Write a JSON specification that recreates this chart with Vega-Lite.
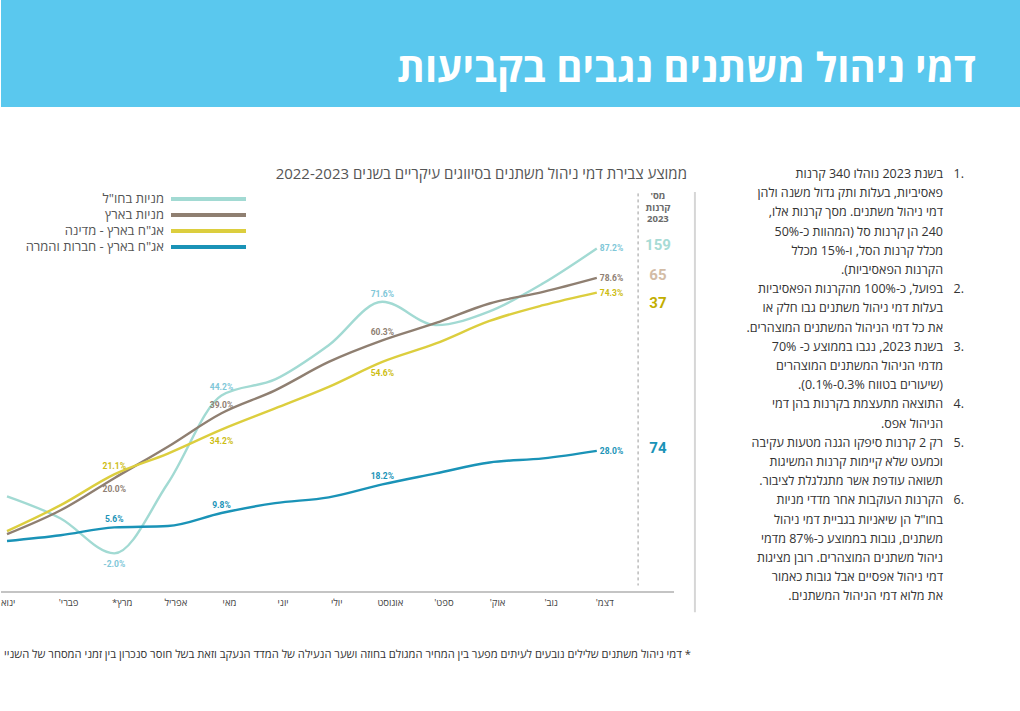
{
  "$schema": "https://vega.github.io/schema/vega-lite/v6.json",
  "padding": 0,
  "background": "white",
  "config": {"view": {"stroke": null}, "font": "Open Sans", "text": {"font": "Open Sans"}},
  "datasets": {
    "main": [
      {"series": "מניות בחו\"ל", "code": "intl", "month": 1, "value": 14.7},
      {"series": "מניות בחו\"ל", "code": "intl", "month": 2, "value": 8.2},
      {"series": "מניות בחו\"ל", "code": "intl", "month": 3, "value": -2.0, "label": "-2.0%"},
      {"series": "מניות בחו\"ל", "code": "intl", "month": 4, "value": 18.5},
      {"series": "מניות בחו\"ל", "code": "intl", "month": 5, "value": 44.2, "label": "44.2%"},
      {"series": "מניות בחו\"ל", "code": "intl", "month": 6, "value": 48.9},
      {"series": "מניות בחו\"ל", "code": "intl", "month": 7, "value": 58.9},
      {"series": "מניות בחו\"ל", "code": "intl", "month": 8, "value": 71.6, "label": "71.6%"},
      {"series": "מניות בחו\"ל", "code": "intl", "month": 9, "value": 64.8},
      {"series": "מניות בחו\"ל", "code": "intl", "month": 10, "value": 68.8},
      {"series": "מניות בחו\"ל", "code": "intl", "month": 11, "value": 77.0},
      {"series": "מניות בחו\"ל", "code": "intl", "month": 12, "value": 87.2, "label": "87.2%", "funds": 159},
      {"series": "מניות בארץ", "code": "dom", "month": 1, "value": 3.6},
      {"series": "מניות בארץ", "code": "dom", "month": 2, "value": 10.6},
      {"series": "מניות בארץ", "code": "dom", "month": 3, "value": 20.0, "label": "20.0%"},
      {"series": "מניות בארץ", "code": "dom", "month": 4, "value": 29.2},
      {"series": "מניות בארץ", "code": "dom", "month": 5, "value": 39.0, "label": "39.0%"},
      {"series": "מניות בארץ", "code": "dom", "month": 6, "value": 45.7},
      {"series": "מניות בארץ", "code": "dom", "month": 7, "value": 54.0},
      {"series": "מניות בארץ", "code": "dom", "month": 8, "value": 60.3, "label": "60.3%"},
      {"series": "מניות בארץ", "code": "dom", "month": 9, "value": 65.4},
      {"series": "מניות בארץ", "code": "dom", "month": 10, "value": 71.1},
      {"series": "מניות בארץ", "code": "dom", "month": 11, "value": 74.5},
      {"series": "מניות בארץ", "code": "dom", "month": 12, "value": 78.6, "label": "78.6%", "funds": 65},
      {"series": "אג\"ח בארץ - מדינה", "code": "gov", "month": 1, "value": 4.5},
      {"series": "אג\"ח בארץ - מדינה", "code": "gov", "month": 2, "value": 12.1},
      {"series": "אג\"ח בארץ - מדינה", "code": "gov", "month": 3, "value": 21.1, "label": "21.1%"},
      {"series": "אג\"ח בארץ - מדינה", "code": "gov", "month": 4, "value": 27.2},
      {"series": "אג\"ח בארץ - מדינה", "code": "gov", "month": 5, "value": 34.2, "label": "34.2%"},
      {"series": "אג\"ח בארץ - מדינה", "code": "gov", "month": 6, "value": 40.4},
      {"series": "אג\"ח בארץ - מדינה", "code": "gov", "month": 7, "value": 46.7},
      {"series": "אג\"ח בארץ - מדינה", "code": "gov", "month": 8, "value": 54.0, "label": "54.6%"},
      {"series": "אג\"ח בארץ - מדינה", "code": "gov", "month": 9, "value": 59.4},
      {"series": "אג\"ח בארץ - מדינה", "code": "gov", "month": 10, "value": 66.0},
      {"series": "אג\"ח בארץ - מדינה", "code": "gov", "month": 11, "value": 70.6},
      {"series": "אג\"ח בארץ - מדינה", "code": "gov", "month": 12, "value": 74.3, "label": "74.3%", "funds": 37},
      {"series": "אג\"ח בארץ - חברות והמרה", "code": "corp", "month": 1, "value": 1.6},
      {"series": "אג\"ח בארץ - חברות והמרה", "code": "corp", "month": 2, "value": 3.3},
      {"series": "אג\"ח בארץ - חברות והמרה", "code": "corp", "month": 3, "value": 5.6, "label": "5.6%"},
      {"series": "אג\"ח בארץ - חברות והמרה", "code": "corp", "month": 4, "value": 6.0},
      {"series": "אג\"ח בארץ - חברות והמרה", "code": "corp", "month": 5, "value": 9.8, "label": "9.8%"},
      {"series": "אג\"ח בארץ - חברות והמרה", "code": "corp", "month": 6, "value": 12.7},
      {"series": "אג\"ח בארץ - חברות והמרה", "code": "corp", "month": 7, "value": 14.4},
      {"series": "אג\"ח בארץ - חברות והמרה", "code": "corp", "month": 8, "value": 18.2, "label": "18.2%"},
      {"series": "אג\"ח בארץ - חברות והמרה", "code": "corp", "month": 9, "value": 21.4},
      {"series": "אג\"ח בארץ - חברות והמרה", "code": "corp", "month": 10, "value": 24.6},
      {"series": "אג\"ח בארץ - חברות והמרה", "code": "corp", "month": 11, "value": 25.8},
      {"series": "אג\"ח בארץ - חברות והמרה", "code": "corp", "month": 12, "value": 28.0, "label": "28.0%", "funds": 74}
    ],
    "months": [
      {"month": 1, "name": "ינואר"},
      {"month": 2, "name": "פברי'\u200f"},
      {"month": 3, "name": "מרץ*\u200f"},
      {"month": 4, "name": "אפריל"},
      {"month": 5, "name": "מאי"},
      {"month": 6, "name": "יוני"},
      {"month": 7, "name": "יולי"},
      {"month": 8, "name": "אוגוסט"},
      {"month": 9, "name": "ספט'\u200f"},
      {"month": 10, "name": "אוק'\u200f"},
      {"month": 11, "name": "נוב'\u200f"},
      {"month": 12, "name": "דצמ'\u200f"}
    ],
    "notes": [
      {"line": 1, "num": "1.", "text": "\u200fבשנת 2023 נוהלו 340 קרנות\u200f"},
      {"line": 2, "text": "\u200fפאסיביות, בעלות ותק גדול משנה ולהן\u200f"},
      {"line": 3, "text": "\u200fדמי ניהול משתנים. מסך קרנות אלו,\u200f"},
      {"line": 4, "text": "\u200f240 הן קרנות סל (המהוות כ-50%\u200f"},
      {"line": 5, "text": "\u200fמכלל קרנות הסל, ו-15% מכלל\u200f"},
      {"line": 6, "text": "\u200fהקרנות הפאסיביות).\u200f"},
      {"line": 7, "num": "2.", "text": "\u200fבפועל, כ-100% מהקרנות הפאסיביות\u200f"},
      {"line": 8, "text": "\u200fבעלות דמי ניהול משתנים גבו חלק או\u200f"},
      {"line": 9, "text": "\u200fאת כל דמי הניהול המשתנים המוצהרים.\u200f"},
      {"line": 10, "num": "3.", "text": "\u200fבשנת 2023, נגבו בממוצע כ- 70%\u200f"},
      {"line": 11, "text": "\u200fמדמי הניהול המשתנים המוצהרים\u200f"},
      {"line": 12, "text": "\u200f(שיעורים בטווח 0.3%-0.1%).\u200f"},
      {"line": 13, "num": "4.", "text": "\u200fהתוצאה מתעצמת בקרנות בהן דמי\u200f"},
      {"line": 14, "text": "\u200fהניהול אפס.\u200f"},
      {"line": 15, "num": "5.", "text": "\u200fרק 2 קרנות סיפקו הגנה מטעות עקיבה\u200f"},
      {"line": 16, "text": "\u200fוכמעט שלא קיימות קרנות המשיגות\u200f"},
      {"line": 17, "text": "\u200fתשואה עודפת אשר מתגלגלת לציבור.\u200f"},
      {"line": 18, "num": "6.", "text": "\u200fהקרנות העוקבות אחר מדדי מניות\u200f"},
      {"line": 19, "text": "\u200fבחו\"ל הן שיאניות בגביית דמי ניהול\u200f"},
      {"line": 20, "text": "\u200fמשתנים, גובות בממוצע כ-87% מדמי\u200f"},
      {"line": 21, "text": "\u200fניהול משתנים המוצהרים. רובן מציגות\u200f"},
      {"line": 22, "text": "\u200fדמי ניהול אפסיים אבל גובות כאמור\u200f"},
      {"line": 23, "text": "\u200fאת מלוא דמי הניהול המשתנים.\u200f"}
    ]
  },
  "bounds": "flush",
  "spacing": 83,
  "vconcat": [
    {
      "width": 1020,
      "height": 107,
      "view": {"fill": "#5AC8EE", "stroke": null},
      "data": {"values": [{"heading": "דמי ניהול משתנים נגבים בקביעות"}]},
      "mark": {"type": "text", "align": "right", "baseline": "middle", "dx": -45, "dy": 16, "fontSize": 40, "fontWeight": "bold", "color": "white", "font": "Open Sans"},
      "encoding": {"x": {"value": "width"}, "text": {"field": "heading"}}
    },
    {
      "bounds": "flush",
      "spacing": 5,
      "hconcat": [
        {
          "width": 695,
          "height": 402,
          "title": {"text": "ממוצע צבירת דמי ניהול משתנים בסיווגים עיקריים בשנים 2022-2023", "anchor": "end", "frame": "group", "dx": -9, "offset": 8, "fontSize": 15, "fontWeight": "normal", "color": "#555555", "font": "Open Sans"},
          "resolve": {"scale": {"color": "independent"}},
          "layer": [
            {
              "data": {"name": "main"},
              "mark": {"type": "line", "interpolate": "monotone", "strokeWidth": 2.4},
              "encoding": {
                "x": {"field": "month", "type": "quantitative", "scale": {"domain": [0.888, 13.85], "nice": false, "zero": false}, "axis": null},
                "y": {"field": "value", "type": "quantitative", "scale": {"domain": [-13.3, 104.3], "nice": false, "zero": false}, "axis": null},
                "color": {
                  "field": "series", "type": "nominal",
                  "scale": {"domain": ["מניות בחו\"ל", "מניות בארץ", "אג\"ח בארץ - מדינה", "אג\"ח בארץ - חברות והמרה"], "range": ["#A2DAD3", "#8F7F71", "#DCCE3E", "#1A93B7"]},
                  "legend": {
                    "title": null, "orient": "none", "legendX": 201, "legendY": 2.5, "direction": "vertical",
                    "symbolType": "M-10,0H10", "symbolSize": 56.25, "symbolStrokeWidth": 4, "rowPadding": -1,
                    "labelAlign": "right", "labelOffset": -51, "labelFontSize": 13, "labelColor": "#555555", "labelFont": "Open Sans",
                    "padding": 0, "labelLimit": 300
                  }
                }
              }
            },
            {
              "data": {"values": [{}]},
              "mark": {"type": "rule", "color": "#C4C4C4", "strokeWidth": 2},
              "encoding": {
                "x": {"datum": 0.888, "type": "quantitative", "axis": null},
                "x2": {"datum": 13.44},
                "y": {"datum": -13.3, "type": "quantitative", "axis": null}
              }
            },
            {
              "data": {"values": [{}]},
              "mark": {"type": "rule", "color": "#9A9A9A", "strokeWidth": 1, "strokeDash": [3, 3]},
              "encoding": {
                "x": {"datum": 12.77, "type": "quantitative", "axis": null},
                "y": {"datum": 103.3, "type": "quantitative", "axis": null},
                "y2": {"datum": -11.4}
              }
            },
            {
              "data": {"values": [{}]},
              "mark": {"type": "rule", "color": "#D6D6D6", "strokeWidth": 2},
              "encoding": {
                "x": {"datum": 13.83, "type": "quantitative", "axis": null},
                "y": {"datum": 103.7, "type": "quantitative", "axis": null},
                "y2": {"datum": -19.2}
              }
            },
            {
              "data": {"name": "months"},
              "transform": [{"filter": "datum.month > 1"}],
              "mark": {"type": "text", "align": "center", "baseline": "middle", "dx": 8, "dy": 11, "fontSize": 9.5, "color": "#444444", "font": "Open Sans"},
              "encoding": {
                "x": {"field": "month", "type": "quantitative", "axis": null},
                "y": {"datum": -13.3, "type": "quantitative", "axis": null},
                "text": {"field": "name"}
              }
            },
            {
              "data": {"name": "months"},
              "transform": [{"filter": "datum.month == 1"}],
              "mark": {"type": "text", "align": "left", "baseline": "middle", "dx": -6, "dy": 11, "fontSize": 9.5, "color": "#444444", "font": "Open Sans", "limit": 18, "ellipsis": "\u200f"},
              "encoding": {
                "x": {"field": "month", "type": "quantitative", "axis": null},
                "y": {"datum": -13.3, "type": "quantitative", "axis": null},
                "text": {"field": "name"}
              }
            },
            {
              "data": {"name": "main"},
              "transform": [{"filter": "isValid(datum.label) && datum.month < 12 && !((datum.code == 'intl' && datum.month == 3) || (datum.code == 'dom' && datum.month == 3) || (datum.code == 'gov' && (datum.month == 5 || datum.month == 8)))"}],
              "mark": {"type": "text", "dy": -8, "baseline": "middle", "fontSize": 8.5, "fontWeight": "bold", "font": "Roboto"},
              "encoding": {
                "x": {"field": "month", "type": "quantitative", "axis": null},
                "y": {"field": "value", "type": "quantitative", "axis": null},
                "text": {"field": "label"},
                "color": {"field": "series", "type": "nominal", "legend": null,
                  "scale": {"domain": ["מניות בחו\"ל", "מניות בארץ", "אג\"ח בארץ - מדינה", "אג\"ח בארץ - חברות והמרה"], "range": ["#80C7D8", "#8F8073", "#CDBD12", "#1A93B7"]}}
              }
            },
            {
              "data": {"name": "main"},
              "transform": [{"filter": "isValid(datum.label) && ((datum.code == 'intl' && datum.month == 3) || (datum.code == 'dom' && datum.month == 3) || (datum.code == 'gov' && (datum.month == 5 || datum.month == 8)))"}],
              "mark": {"type": "text", "dy": 11, "baseline": "middle", "fontSize": 8.5, "fontWeight": "bold", "font": "Roboto"},
              "encoding": {
                "x": {"field": "month", "type": "quantitative", "axis": null},
                "y": {"field": "value", "type": "quantitative", "axis": null},
                "text": {"field": "label"},
                "color": {"field": "series", "type": "nominal", "legend": null,
                  "scale": {"domain": ["מניות בחו\"ל", "מניות בארץ", "אג\"ח בארץ - מדינה", "אג\"ח בארץ - חברות והמרה"], "range": ["#80C7D8", "#8F8073", "#CDBD12", "#1A93B7"]}}
              }
            },
            {
              "data": {"name": "main"},
              "transform": [{"filter": "datum.month == 12"}],
              "mark": {"type": "text", "dx": 3, "align": "left", "baseline": "middle", "fontSize": 8.5, "fontWeight": "bold", "font": "Roboto"},
              "encoding": {
                "x": {"field": "month", "type": "quantitative", "axis": null},
                "y": {"field": "value", "type": "quantitative", "axis": null},
                "text": {"field": "label"},
                "color": {"field": "series", "type": "nominal", "legend": null,
                  "scale": {"domain": ["מניות בחו\"ל", "מניות בארץ", "אג\"ח בארץ - מדינה", "אג\"ח בארץ - חברות והמרה"], "range": ["#80C7D8", "#8F8073", "#CDBD12", "#1A93B7"]}}
              }
            },
            {
              "data": {"name": "main"},
              "transform": [{"filter": "datum.month == 12 && datum.code != 'gov'"}],
              "mark": {"type": "text", "dy": -3, "align": "center", "baseline": "middle", "fontSize": 15, "fontWeight": "bold", "font": "Roboto"},
              "encoding": {
                "x": {"datum": 13.14, "type": "quantitative", "axis": null},
                "y": {"field": "value", "type": "quantitative", "axis": null},
                "text": {"field": "funds"},
                "color": {"field": "series", "type": "nominal", "legend": null,
                  "scale": {"domain": ["מניות בחו\"ל", "מניות בארץ", "אג\"ח בארץ - מדינה", "אג\"ח בארץ - חברות והמרה"], "range": ["#A7DBD5", "#D3BCA6", "#C2AE00", "#1A93B7"]}}
              }
            },
            {
              "data": {"name": "main"},
              "transform": [{"filter": "datum.month == 12 && datum.code == 'gov'"}],
              "mark": {"type": "text", "dy": 10, "align": "center", "baseline": "middle", "fontSize": 15, "fontWeight": "bold", "font": "Roboto"},
              "encoding": {
                "x": {"datum": 13.14, "type": "quantitative", "axis": null},
                "y": {"field": "value", "type": "quantitative", "axis": null},
                "text": {"field": "funds"},
                "color": {"field": "series", "type": "nominal", "legend": null,
                  "scale": {"domain": ["מניות בחו\"ל", "מניות בארץ", "אג\"ח בארץ - מדינה", "אג\"ח בארץ - חברות והמרה"], "range": ["#A7DBD5", "#D3BCA6", "#C2AE00", "#1A93B7"]}}
              }
            },
            {
              "data": {"values": [{}]},
              "mark": {"type": "text", "text": ["מס'\u200f", "קרנות", "2023"], "align": "center", "baseline": "top", "lineHeight": 11.5, "fontSize": 9.5, "fontWeight": "bold", "color": "#6B6B6B", "font": "Open Sans"},
              "encoding": {
                "x": {"datum": 13.14, "type": "quantitative", "axis": null},
                "y": {"datum": 104.0, "type": "quantitative", "axis": null}
              }
            },
            {
              "data": {"values": [{"note": "\u200f* דמי ניהול משתנים שלילים נובעים לעיתים מפער בין המחיר המגולם בחוזה ושער הנעילה של המדד הנעקב וזאת בשל חוסר סנכרון בין זמני המסחר של השניים"}]},
              "mark": {"type": "text", "align": "right", "baseline": "middle", "fontSize": 11.2, "color": "#333333", "limit": 690, "ellipsis": "\u200f", "font": "Open Sans"},
              "encoding": {
                "x": {"datum": 13.756, "type": "quantitative", "axis": null},
                "y": {"datum": -31.7, "type": "quantitative", "axis": null},
                "text": {"field": "note"}
              }
            }
          ]
        },
        {
          "width": 263,
          "height": 402,
          "data": {"name": "notes"},
          "layer": [
            {
              "mark": {"type": "text", "align": "right", "baseline": "middle", "dx": -21, "fontSize": 12.5, "color": "#333333", "font": "Open Sans"},
              "encoding": {
                "x": {"value": "width"},
                "y": {"field": "line", "type": "quantitative", "scale": {"domain": [1.833, 22.77], "reverse": true, "nice": false, "zero": false}, "axis": null},
                "text": {"field": "text"}
              }
            },
            {
              "transform": [{"filter": "isValid(datum.num)"}],
              "mark": {"type": "text", "align": "right", "baseline": "middle", "fontSize": 12.5, "color": "#333333", "font": "Open Sans"},
              "encoding": {
                "x": {"value": "width"},
                "y": {"field": "line", "type": "quantitative", "scale": {"domain": [1.833, 22.77], "reverse": true, "nice": false, "zero": false}, "axis": null},
                "text": {"field": "num"}
              }
            }
          ]
        }
      ]
    }
  ]
}
